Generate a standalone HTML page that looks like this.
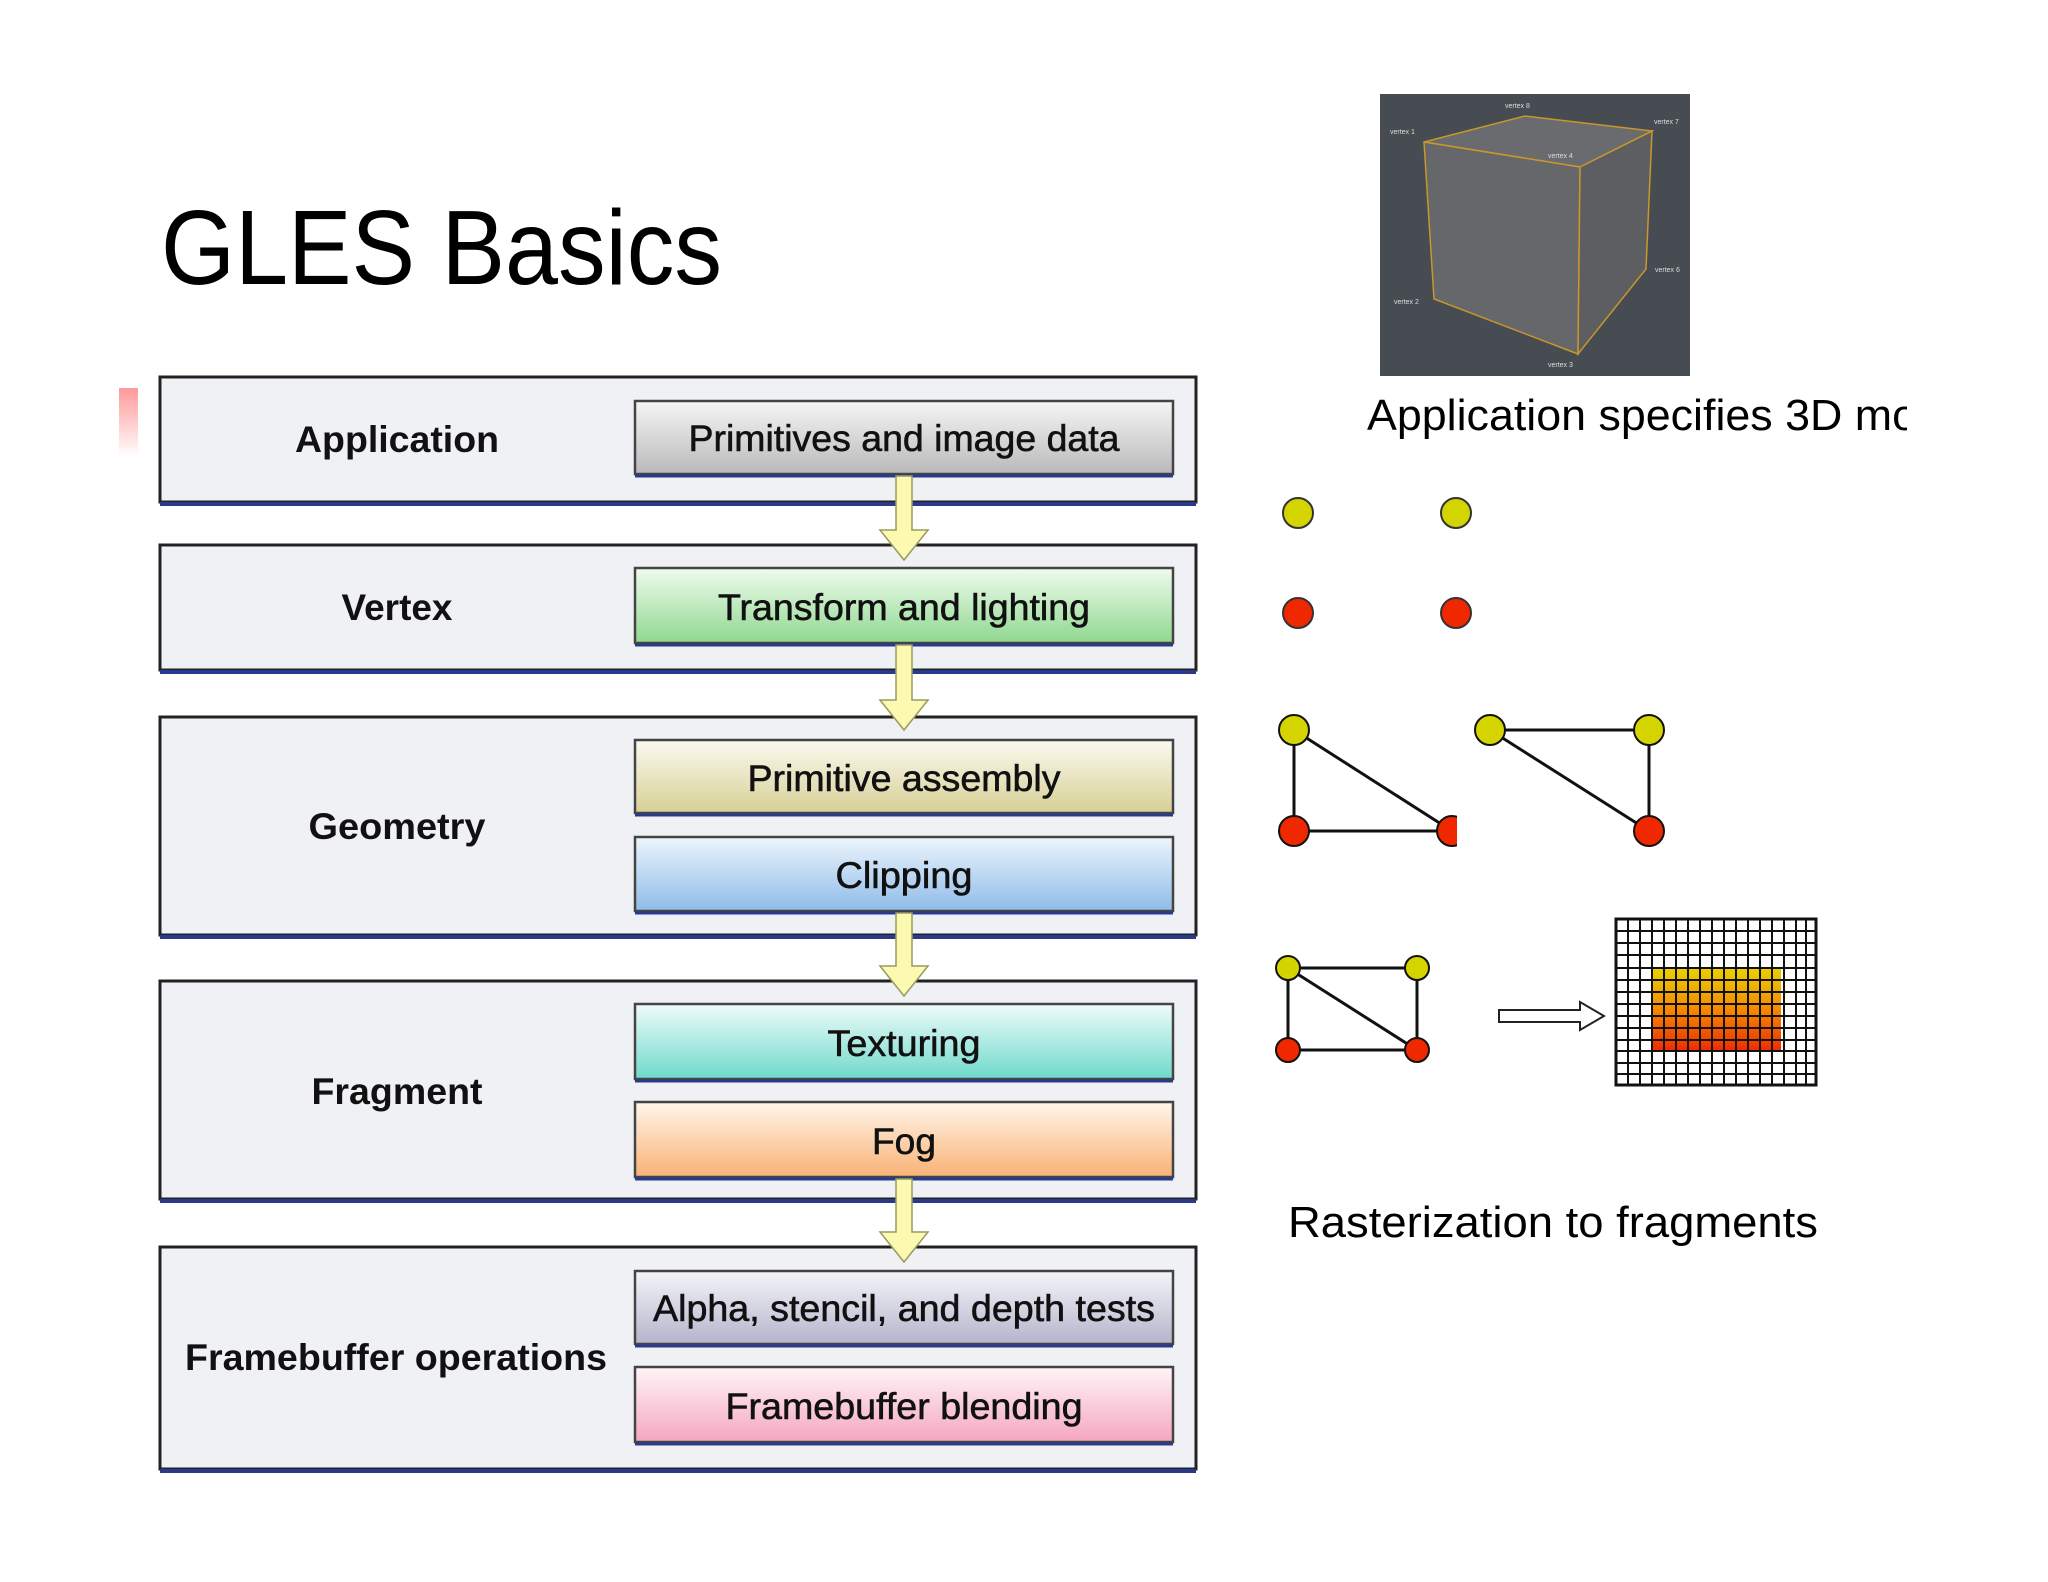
<!DOCTYPE html>
<html><head><meta charset="utf-8"><style>
html,body{margin:0;padding:0;background:#fff;}
svg{display:block;}
text{font-family:"Liberation Sans",Arial,sans-serif;}
</style></head><body>
<svg width="2048" height="1582" viewBox="0 0 2048 1582" xmlns="http://www.w3.org/2000/svg">
<defs>
<linearGradient id="red" x1="0" y1="0" x2="0" y2="1"><stop offset="0" stop-color="#f99"/><stop offset="1" stop-color="#fff"/></linearGradient>
<linearGradient id="gGray" x1="0" y1="0" x2="0" y2="1"><stop offset="0" stop-color="#f6f6f6"/><stop offset="1" stop-color="#b9b9bb"/></linearGradient>
<linearGradient id="gGreen" x1="0" y1="0" x2="0" y2="1"><stop offset="0" stop-color="#f0fbef"/><stop offset="1" stop-color="#8fd88e"/></linearGradient>
<linearGradient id="gTan" x1="0" y1="0" x2="0" y2="1"><stop offset="0" stop-color="#fbfaf0"/><stop offset="1" stop-color="#d7cf95"/></linearGradient>
<linearGradient id="gBlue" x1="0" y1="0" x2="0" y2="1"><stop offset="0" stop-color="#eef5fd"/><stop offset="1" stop-color="#8fbbe8"/></linearGradient>
<linearGradient id="gCyan" x1="0" y1="0" x2="0" y2="1"><stop offset="0" stop-color="#effcfa"/><stop offset="1" stop-color="#6fd9cb"/></linearGradient>
<linearGradient id="gOrange" x1="0" y1="0" x2="0" y2="1"><stop offset="0" stop-color="#fff6ec"/><stop offset="1" stop-color="#f9b274"/></linearGradient>
<linearGradient id="gLav" x1="0" y1="0" x2="0" y2="1"><stop offset="0" stop-color="#f5f5fa"/><stop offset="1" stop-color="#b4b4cc"/></linearGradient>
<linearGradient id="gPink" x1="0" y1="0" x2="0" y2="1"><stop offset="0" stop-color="#fff5f8"/><stop offset="1" stop-color="#f4a6bf"/></linearGradient>
<linearGradient id="frag" x1="0" y1="0" x2="0" y2="1"><stop offset="0" stop-color="#e8d200"/><stop offset="0.5" stop-color="#f58a00"/><stop offset="1" stop-color="#f02a00"/></linearGradient>
<clipPath id="capclip"><rect x="1300" y="380" width="607" height="80"/></clipPath>
<clipPath id="triclip"><rect x="1270" y="700" width="187" height="160"/></clipPath>
</defs>

<text x="161" y="284" font-size="106" textLength="561" lengthAdjust="spacingAndGlyphs" fill="#000">GLES Basics</text>
<rect x="119" y="388" width="19" height="69" fill="url(#red)"/>

<g stroke="#222" stroke-width="3" fill="#eff1f5">
<rect x="160" y="377" width="1036" height="125"/>
<rect x="160" y="545" width="1036" height="125"/>
<rect x="160" y="717" width="1036" height="218"/>
<rect x="160" y="981" width="1036" height="218"/>
<rect x="160" y="1247" width="1036" height="222"/>
</g>
<g stroke="#2a3a8a" stroke-width="4">
<line x1="160" y1="504" x2="1196" y2="504"/>
<line x1="160" y1="672" x2="1196" y2="672"/>
<line x1="160" y1="937" x2="1196" y2="937"/>
<line x1="160" y1="1201" x2="1196" y2="1201"/>
<line x1="160" y1="1471" x2="1196" y2="1471"/>
</g>

<g stroke="#444" stroke-width="2.5">
<rect x="635" y="401" width="538" height="73" fill="url(#gGray)"/>
<rect x="635" y="568" width="538" height="75" fill="url(#gGreen)"/>
<rect x="635" y="740" width="538" height="73" fill="url(#gTan)"/>
<rect x="635" y="837" width="538" height="74" fill="url(#gBlue)"/>
<rect x="635" y="1004" width="538" height="75" fill="url(#gCyan)"/>
<rect x="635" y="1102" width="538" height="75" fill="url(#gOrange)"/>
<rect x="635" y="1271" width="538" height="73" fill="url(#gLav)"/>
<rect x="635" y="1367" width="538" height="75" fill="url(#gPink)"/>
</g>
<g stroke="#2a3a8a" stroke-width="3">
<line x1="635" y1="476" x2="1173" y2="476"/>
<line x1="635" y1="645" x2="1173" y2="645"/>
<line x1="635" y1="815" x2="1173" y2="815"/>
<line x1="635" y1="913" x2="1173" y2="913"/>
<line x1="635" y1="1081" x2="1173" y2="1081"/>
<line x1="635" y1="1179" x2="1173" y2="1179"/>
<line x1="635" y1="1346" x2="1173" y2="1346"/>
<line x1="635" y1="1444" x2="1173" y2="1444"/>
</g>

<g fill="#fbfab0" stroke="#9a9a60" stroke-width="1.5">
<path d="M896 476 H912 V530 H928 L904 560 L880 530 H896 Z"/>
<path d="M896 645 H912 V700 H928 L904 730 L880 700 H896 Z"/>
<path d="M896 913 H912 V966 H928 L904 996 L880 966 H896 Z"/>
<path d="M896 1179 H912 V1232 H928 L904 1262 L880 1232 H896 Z"/>
</g>

<g font-weight="bold" font-size="37" fill="#111" text-anchor="middle">
<text x="397" y="452" textLength="204" lengthAdjust="spacingAndGlyphs">Application</text>
<text x="397" y="620" textLength="111" lengthAdjust="spacingAndGlyphs">Vertex</text>
<text x="397" y="839" textLength="177" lengthAdjust="spacingAndGlyphs">Geometry</text>
<text x="397" y="1104" textLength="171" lengthAdjust="spacingAndGlyphs">Fragment</text>
<text x="396" y="1370" textLength="422" lengthAdjust="spacingAndGlyphs">Framebuffer operations</text>
</g>
<g font-size="37" fill="#111" text-anchor="middle" stroke="#111" stroke-width="0.6">
<text x="904" y="451" textLength="431" lengthAdjust="spacingAndGlyphs">Primitives and image data</text>
<text x="904" y="620" textLength="372" lengthAdjust="spacingAndGlyphs">Transform and lighting</text>
<text x="904" y="791" textLength="313" lengthAdjust="spacingAndGlyphs">Primitive assembly</text>
<text x="904" y="888" textLength="137" lengthAdjust="spacingAndGlyphs">Clipping</text>
<text x="904" y="1056" textLength="153" lengthAdjust="spacingAndGlyphs">Texturing</text>
<text x="904" y="1154" textLength="64" lengthAdjust="spacingAndGlyphs">Fog</text>
<text x="904" y="1321" textLength="502" lengthAdjust="spacingAndGlyphs">Alpha, stencil, and depth tests</text>
<text x="904" y="1419" textLength="357" lengthAdjust="spacingAndGlyphs">Framebuffer blending</text>
</g>

<rect x="1380" y="94" width="310" height="282" fill="#474b52"/>
<polygon points="1424,142 1525,116 1652,131 1580,167" fill="#6a6b6f" stroke="#c9972a" stroke-width="1.5"/>
<polygon points="1424,142 1580,167 1578,354 1434,299" fill="#66676b" stroke="#c9972a" stroke-width="1.5"/>
<polygon points="1580,167 1652,131 1646,269 1578,354" fill="#5d5e62" stroke="#c9972a" stroke-width="1.5"/>
<g font-size="7" fill="#ddd">
<text x="1505" y="108">vertex 8</text><text x="1654" y="124">vertex 7</text>
<text x="1390" y="134">vertex 1</text><text x="1548" y="158">vertex 4</text>
<text x="1655" y="272">vertex 6</text><text x="1394" y="304">vertex 2</text>
<text x="1548" y="367">vertex 3</text>
</g>

<g clip-path="url(#capclip)"><text x="1367" y="430" font-size="44" textLength="550" lengthAdjust="spacingAndGlyphs" fill="#000">Application specifies 3D mo</text></g>

<g stroke="#333" stroke-width="2">
<circle cx="1298" cy="513" r="15" fill="#d4d400"/>
<circle cx="1456" cy="513" r="15" fill="#d4d400"/>
<circle cx="1298" cy="613" r="15" fill="#f02800"/>
<circle cx="1456" cy="613" r="15" fill="#f02800"/>
</g>

<g clip-path="url(#triclip)" stroke="#111" stroke-width="3">
<line x1="1294" y1="730" x2="1294" y2="831"/><line x1="1294" y1="831" x2="1452" y2="831"/><line x1="1294" y1="730" x2="1452" y2="831"/>
<circle cx="1294" cy="730" r="15" fill="#d4d400" stroke-width="2"/>
<circle cx="1294" cy="831" r="15" fill="#f02800" stroke-width="2"/>
<circle cx="1452" cy="831" r="15" fill="#f02800" stroke-width="2"/>
</g>
<g stroke="#111" stroke-width="3">
<line x1="1490" y1="730" x2="1649" y2="730"/><line x1="1649" y1="730" x2="1649" y2="831"/><line x1="1490" y1="730" x2="1649" y2="831"/>
<circle cx="1490" cy="730" r="15" fill="#d4d400" stroke-width="2"/>
<circle cx="1649" cy="730" r="15" fill="#d4d400" stroke-width="2"/>
<circle cx="1649" cy="831" r="15" fill="#f02800" stroke-width="2"/>
</g>
<g stroke="#111" stroke-width="3">
<rect x="1288" y="968" width="129" height="82" fill="none"/>
<line x1="1288" y1="968" x2="1417" y2="1050"/>
<circle cx="1288" cy="968" r="12" fill="#d4d400" stroke-width="2"/>
<circle cx="1417" cy="968" r="12" fill="#d4d400" stroke-width="2"/>
<circle cx="1288" cy="1050" r="12" fill="#f02800" stroke-width="2"/>
<circle cx="1417" cy="1050" r="12" fill="#f02800" stroke-width="2"/>
</g>
<path d="M1499 1010 H1580 V1002 L1604 1016 L1580 1030 V1022 H1499 Z" fill="#fff" stroke="#222" stroke-width="2"/>

<rect x="1652" y="968" width="129" height="83" fill="url(#frag)"/>
<rect x="1616" y="919" width="200" height="166" stroke-width="3" stroke="#111" fill="none"/>
<g stroke="#111" stroke-width="2">
<line x1="1628" y1="919" x2="1628" y2="1085"/><line x1="1640" y1="919" x2="1640" y2="1085"/><line x1="1652" y1="919" x2="1652" y2="1085"/><line x1="1664" y1="919" x2="1664" y2="1085"/><line x1="1676" y1="919" x2="1676" y2="1085"/><line x1="1688" y1="919" x2="1688" y2="1085"/><line x1="1700" y1="919" x2="1700" y2="1085"/><line x1="1712" y1="919" x2="1712" y2="1085"/><line x1="1724" y1="919" x2="1724" y2="1085"/><line x1="1736" y1="919" x2="1736" y2="1085"/><line x1="1748" y1="919" x2="1748" y2="1085"/><line x1="1760" y1="919" x2="1760" y2="1085"/><line x1="1772" y1="919" x2="1772" y2="1085"/><line x1="1784" y1="919" x2="1784" y2="1085"/><line x1="1796" y1="919" x2="1796" y2="1085"/><line x1="1806" y1="919" x2="1806" y2="1085"/>
<line x1="1616" y1="931" x2="1816" y2="931"/><line x1="1616" y1="943" x2="1816" y2="943"/><line x1="1616" y1="955" x2="1816" y2="955"/><line x1="1616" y1="968" x2="1816" y2="968"/><line x1="1616" y1="980" x2="1816" y2="980"/><line x1="1616" y1="992" x2="1816" y2="992"/><line x1="1616" y1="1004" x2="1816" y2="1004"/><line x1="1616" y1="1016" x2="1816" y2="1016"/><line x1="1616" y1="1028" x2="1816" y2="1028"/><line x1="1616" y1="1040" x2="1816" y2="1040"/><line x1="1616" y1="1051" x2="1816" y2="1051"/><line x1="1616" y1="1063" x2="1816" y2="1063"/><line x1="1616" y1="1074" x2="1816" y2="1074"/>
</g>

<text x="1288" y="1237" font-size="44" textLength="530" lengthAdjust="spacingAndGlyphs" fill="#000">Rasterization to fragments</text>
</svg>
</body></html>
